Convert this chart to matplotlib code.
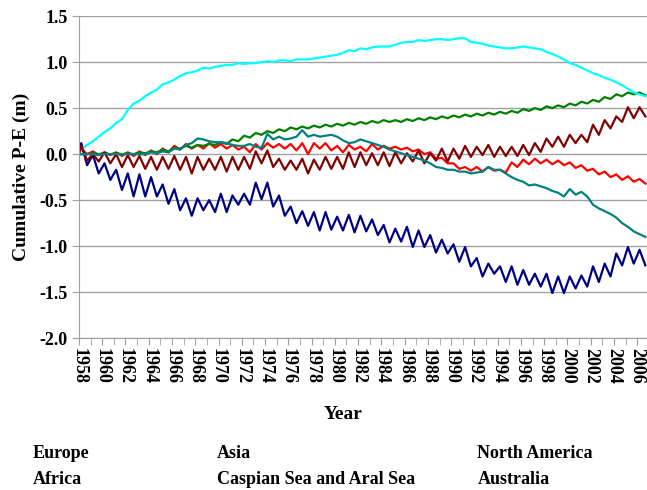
import numpy as np
import matplotlib.pyplot as plt
from matplotlib.ticker import MultipleLocator

# Cumulative P-E per region, sampled twice a year (around the seasonal peak and trough)
years = np.arange(1958, 2007)

europe = [0.06, 0.0, 0.03, -0.01, 0.02, -0.01, 0.02, -0.02, 0.02, -0.02,
          0.03, -0.01, 0.04, 0.0, 0.06, 0.02, 0.09, 0.05, 0.11, 0.06,
          0.10, 0.06, 0.12, 0.07, 0.11, 0.06, 0.10, 0.05, 0.08, 0.02,
          0.11, 0.05, 0.12, 0.07, 0.11, 0.06, 0.11, 0.04, 0.12, 0.0,
          0.12, 0.06, 0.12, 0.04, 0.09, 0.02, 0.10, 0.05, 0.08, 0.03,
          0.11, 0.05, 0.09, 0.06, 0.08, 0.05, 0.07, 0.03, 0.05, 0.0,
          0.02, -0.05, -0.04, -0.10, -0.10, -0.16, -0.14, -0.18, -0.14, -0.19,
          -0.14, -0.18, -0.17, -0.20, -0.09, -0.14, -0.06, -0.11, -0.05, -0.10,
          -0.06, -0.11, -0.07, -0.12, -0.09, -0.15, -0.12, -0.18, -0.16, -0.22,
          -0.19, -0.25, -0.22, -0.28, -0.24, -0.30, -0.27, -0.32]

asia = [0.0, 0.0, 0.01, 0.0, 0.01, 0.0, 0.01, 0.0, 0.01, 0.0,
        0.02, 0.01, 0.03, 0.02, 0.05, 0.03, 0.07, 0.06, 0.09, 0.07,
        0.10, 0.09, 0.11, 0.10, 0.13, 0.11, 0.16, 0.14, 0.20, 0.18,
        0.23, 0.21, 0.25, 0.23, 0.27, 0.25, 0.29, 0.27, 0.30, 0.28,
        0.31, 0.29, 0.32, 0.30, 0.33, 0.31, 0.34, 0.32, 0.35, 0.33,
        0.36, 0.34, 0.37, 0.35, 0.37, 0.35, 0.38, 0.36, 0.39, 0.37,
        0.40, 0.38, 0.41, 0.39, 0.42, 0.40, 0.43, 0.41, 0.44, 0.42,
        0.45, 0.43, 0.46, 0.44, 0.47, 0.45, 0.49, 0.47, 0.50, 0.48,
        0.52, 0.50, 0.53, 0.51, 0.55, 0.53, 0.57, 0.55, 0.59, 0.57,
        0.62, 0.60, 0.65, 0.63, 0.67, 0.65, 0.67, 0.64]

north_america = [0.09, -0.07, 0.0, -0.08, 0.02, -0.10, 0.0, -0.14, -0.01, -0.14,
                 -0.02, -0.16, -0.03, -0.17, -0.03, -0.16, -0.02, -0.17, -0.03, -0.21,
                 -0.03, -0.17, -0.05, -0.17, -0.03, -0.19, -0.03, -0.17, -0.03, -0.16,
                 0.03, -0.10, 0.04, -0.14, -0.05, -0.17, -0.07, -0.17, -0.05, -0.21,
                 -0.06, -0.17, -0.03, -0.16, -0.03, -0.16, 0.02, -0.14, 0.02, -0.12,
                 0.01, -0.12, 0.02, -0.13, 0.02, -0.10, 0.01, -0.08, 0.04, -0.10,
                 0.01, -0.07, 0.06, -0.08, 0.06, -0.05, 0.09, -0.03, 0.08, -0.01,
                 0.10, -0.03, 0.08, -0.02, 0.08, -0.02, 0.10, -0.01, 0.12, 0.025,
                 0.17, 0.08, 0.19, 0.08, 0.21, 0.12, 0.21, 0.13, 0.32, 0.21,
                 0.37, 0.28, 0.41, 0.35, 0.51, 0.39, 0.51, 0.41]

africa = [0.12, -0.12, -0.01, -0.21, -0.10, -0.28, -0.17, -0.39, -0.21, -0.46,
          -0.22, -0.46, -0.25, -0.46, -0.33, -0.54, -0.38, -0.61, -0.48, -0.67,
          -0.48, -0.61, -0.50, -0.63, -0.43, -0.63, -0.45, -0.55, -0.43, -0.55,
          -0.31, -0.49, -0.31, -0.57, -0.45, -0.67, -0.57, -0.75, -0.62, -0.78,
          -0.63, -0.83, -0.63, -0.82, -0.68, -0.83, -0.66, -0.85, -0.67, -0.84,
          -0.71, -0.88, -0.77, -0.96, -0.81, -0.95, -0.79, -1.01, -0.83, -1.01,
          -0.88, -1.07, -0.93, -1.08, -0.98, -1.17, -1.01, -1.22, -1.13, -1.33,
          -1.19, -1.30, -1.22, -1.39, -1.22, -1.42, -1.26, -1.42, -1.30, -1.44,
          -1.30, -1.51, -1.33, -1.51, -1.33, -1.46, -1.32, -1.44, -1.22, -1.39,
          -1.19, -1.33, -1.08, -1.21, -1.01, -1.19, -1.04, -1.21]

caspian_aral = [0.05, 0.10, 0.14, 0.19, 0.24, 0.28, 0.34, 0.38, 0.48, 0.55,
                0.58, 0.63, 0.67, 0.70, 0.76, 0.78, 0.81, 0.85, 0.88, 0.89,
                0.91, 0.94, 0.93, 0.95, 0.96, 0.97, 0.97, 0.99, 0.98, 0.99,
                0.99, 1.00, 1.01, 1.00, 1.02, 1.02, 1.01, 1.03, 1.03, 1.03,
                1.04, 1.05, 1.06, 1.07, 1.08, 1.10, 1.13, 1.12, 1.15, 1.14,
                1.16, 1.17, 1.17, 1.17, 1.19, 1.21, 1.22, 1.22, 1.24, 1.23,
                1.24, 1.25, 1.25, 1.24, 1.25, 1.26, 1.26, 1.22, 1.21, 1.20,
                1.18, 1.17, 1.16, 1.15, 1.15, 1.16, 1.17, 1.16, 1.15, 1.14,
                1.11, 1.09, 1.06, 1.03, 0.99, 0.97, 0.94, 0.91, 0.88, 0.86,
                0.83, 0.81, 0.78, 0.75, 0.71, 0.67, 0.65, 0.63]

australia = [0.0, 0.0, 0.0, -0.01, 0.0, 0.0, 0.0, 0.0, 0.0, 0.0,
             0.0, 0.0, 0.02, 0.01, 0.03, 0.02, 0.06, 0.05, 0.10, 0.12,
             0.17, 0.16, 0.14, 0.13, 0.13, 0.12, 0.10, 0.09, 0.09, 0.11,
             0.08, 0.07, 0.22, 0.16, 0.19, 0.16, 0.17, 0.19, 0.26, 0.19,
             0.21, 0.19, 0.20, 0.21, 0.19, 0.15, 0.12, 0.13, 0.16, 0.14,
             0.12, 0.10, 0.08, 0.05, 0.03, 0.01, -0.01, -0.03, -0.05, -0.07,
             -0.10, -0.14, -0.15, -0.17, -0.17, -0.19, -0.19, -0.21, -0.20, -0.19,
             -0.14, -0.17, -0.17, -0.21, -0.25, -0.28, -0.30, -0.34, -0.33, -0.35,
             -0.37, -0.40, -0.42, -0.46, -0.38, -0.44, -0.41, -0.46, -0.55, -0.59,
             -0.62, -0.65, -0.69, -0.75, -0.79, -0.84, -0.87, -0.90]

# sample times: start of 1958 (zero), then two samples per year
t = np.concatenate([[1958.0], np.ravel(np.column_stack([years + 0.2, years + 0.7]))])

series = [
    ("Europe", europe, "#FF0000"),
    ("Africa", africa, "#000080"),
    ("Asia", asia, "#008000"),
    ("Caspian Sea and Aral Sea", caspian_aral, "#00FFFF"),
    ("North America", north_america, "#800000"),
    ("Australia", australia, "#008080"),
]

plt.rcParams["font.family"] = ["Liberation Serif", "DejaVu Serif"]
plt.rcParams["font.weight"] = "bold"
plt.rcParams["axes.unicode_minus"] = False

fig = plt.figure(figsize=(6.47, 4.90), dpi=100)
ax = fig.add_axes([0.122, 0.310, 0.878, 0.657])

lines = {}
for name, vals, color in series:
    ln, = ax.plot(t, np.concatenate([[0.0], vals]), color=color, lw=1.6, label=name)
    lines[name] = ln

ax.set_xlim(1958, 2006.84)
ax.set_ylim(-2.0, 1.5)
ax.yaxis.set_major_locator(MultipleLocator(0.5))
ax.yaxis.set_major_formatter(plt.FormatStrFormatter("%.1f"))
ax.xaxis.set_major_locator(MultipleLocator(2))
ax.xaxis.set_minor_locator(MultipleLocator(1))
ax.xaxis.set_major_formatter(plt.FormatStrFormatter("%d"))

ax.grid(axis="y", color="#A0A0A0", lw=1.0)
ax.set_axisbelow(True)
for s in ["top", "right"]:
    ax.spines[s].set_visible(False)
for s in ["left", "bottom"]:
    ax.spines[s].set_color("#A0A0A0")

ax.tick_params(axis="y", direction="out", length=5, color="#A0A0A0", labelsize=13, pad=3)
ax.tick_params(axis="x", which="both", direction="out", length=5, color="#A0A0A0",
               labelsize=13, pad=2)
for lab in ax.get_xticklabels():
    lab.set_rotation(-90)
    lab.set_fontweight("bold")
for lab in ax.get_yticklabels():
    lab.set_fontweight("bold")

ax.set_xlabel("Year", fontsize=14, fontweight="bold")
ax.xaxis.set_label_coords(0.465, -0.21)
ax.set_ylabel("Cumulative P-E (m)", fontsize=14, fontweight="bold", labelpad=7)

# legend laid out as three text-only columns below the plot
cols = [(["Europe", "Africa"], 0.050), (["Asia", "Caspian Sea and Aral Sea"], 0.335),
        (["North America", "Australia"], 0.738)]
for names, xpos in cols:
    leg = fig.legend([lines[n] for n in names], names, loc="upper left",
                     bbox_to_anchor=(xpos, 0.091), frameon=False,
                     handlelength=0, handletextpad=0, borderpad=0, borderaxespad=0,
                     labelspacing=0.45, prop={"size": 13, "weight": "bold"})
    for h in leg.legend_handles:
        h.set_visible(False)

fig.savefig("out.png", dpi=100)
